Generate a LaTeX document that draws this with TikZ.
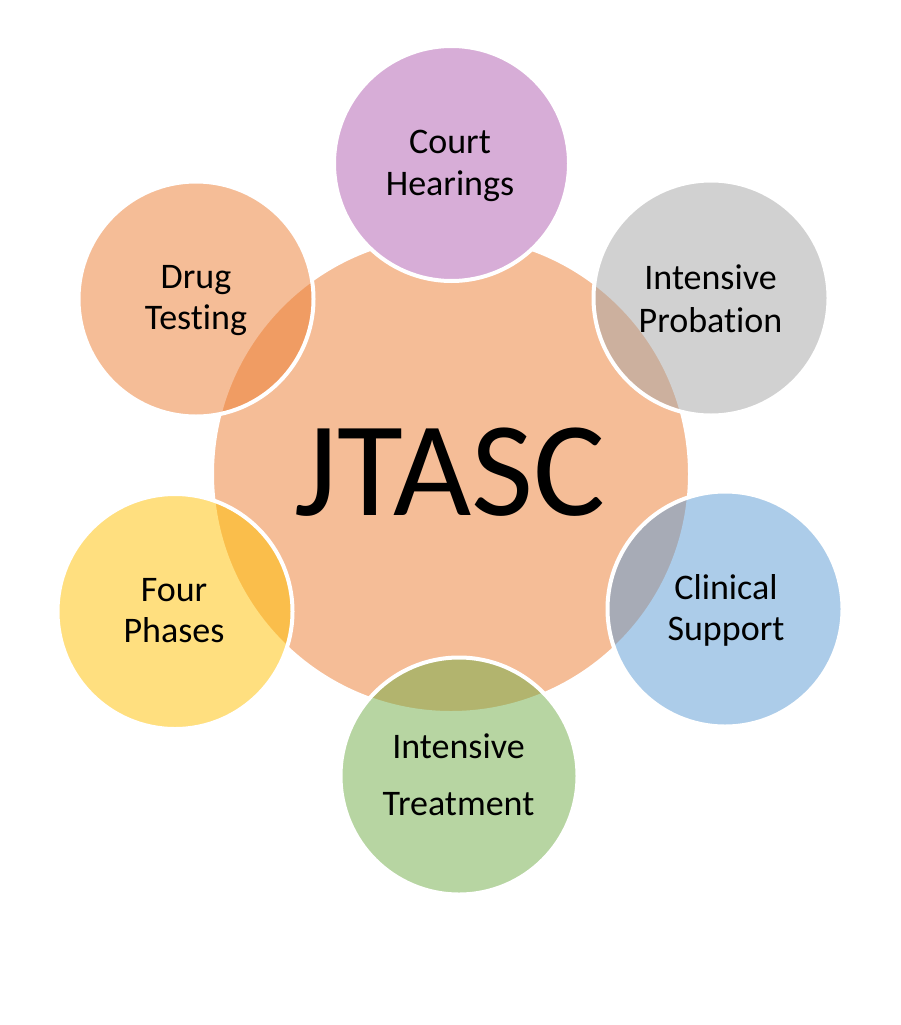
\documentclass[tikz,border=0pt]{standalone}
\usepackage{fontspec}
\setmainfont{Carlito}[Ligatures=NoCommon]
\definecolor{cOrange}{HTML}{ED7D31}
\definecolor{cGrey}{HTML}{A5A5A5}
\definecolor{cBlue}{HTML}{5B9BD5}
\definecolor{cGold}{HTML}{FFC000}
\definecolor{cGreen}{HTML}{70AD47}
\definecolor{cPurple}{HTML}{D7ADD7}
\begin{document}
\begin{tikzpicture}[x=1pt,y=-1pt,
  bubble/.style={circle, inner sep=0pt, draw=white, line width=4pt, fill opacity=0.5, minimum size=235pt},
  lbl/.style={anchor=base, inner sep=0pt, font=\fontsize{36}{42}\selectfont, text=black},
  big/.style={anchor=base, inner sep=0pt, font=\fontsize{135}{140}\selectfont, text=black}]
\useasboundingbox (0,0) rectangle (900,1025);
\fill[white] (0,0) rectangle (900,1025);
% central circle
\node[bubble, fill=cOrange, minimum size=478pt] (core) at (451,474) {};
% satellites
\node[bubble, fill=cOrange] (drug) at (196,299) {};
\node[bubble, fill=cGrey] (prob) at (711,298) {};
\node[bubble, fill=cGold] (four) at (175,611.5) {};
\node[bubble, fill=cBlue] (clin) at (725,609) {};
\node[bubble, fill=cGreen, minimum size=237pt] (treat) at (459,776) {};
\node[bubble, fill=cPurple, fill opacity=1] (court) at (451.5,163.5) {};
% labels
\node[big] (jtasc) at (450,515) {JTASC};
\node[lbl] (court1) at (450,153) {Court};
\node[lbl] (court2) at (450,195) {Hearings};
\node[lbl] (drug1) at (196,288) {Drug};
\node[lbl] (drug2) at (196,329) {Testing};
\node[lbl] (prob1) at (710.5,289) {Intensive};
\node[lbl] (prob2) at (710.5,332) {Probation};
\node[lbl] (four1) at (174,601) {Four};
\node[lbl] (four2) at (174,642) {Phases};
\node[lbl] (clin1) at (726,599) {Clinical};
\node[lbl] (clin2) at (726,640) {Support};
\node[lbl] (treat1) at (458.5,758) {Intensive};
\node[lbl] (treat2) at (458.5,815) {Treatment};
\end{tikzpicture}
\end{document}
